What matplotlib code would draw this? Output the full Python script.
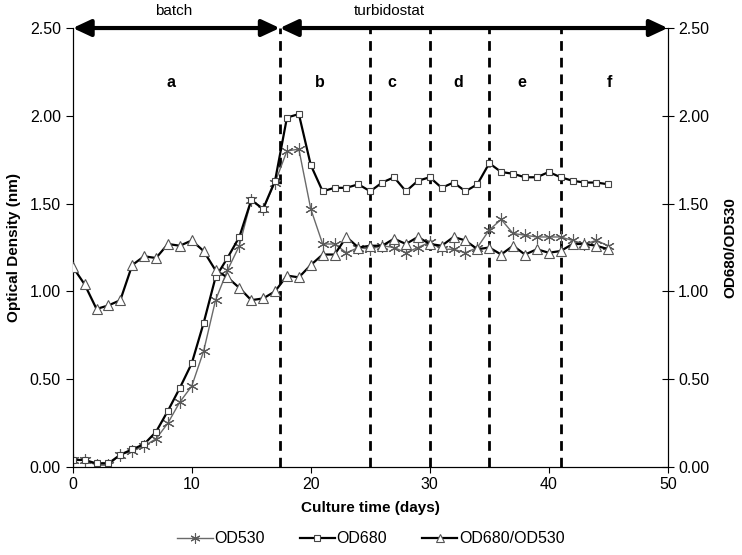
import numpy as np
import matplotlib
matplotlib.use('Agg')
import matplotlib.pyplot as plt

plt.rcParams['font.family'] = ['Liberation Sans', 'DejaVu Sans']

# Culture time (days)
days = list(range(0, 46))

od680 = [0.04, 0.04, 0.02, 0.02, 0.07, 0.10, 0.13, 0.20, 0.32, 0.45,
         0.59, 0.82, 1.08, 1.19, 1.31, 1.52, 1.47, 1.63, 1.99, 2.01,
         1.72, 1.57, 1.59, 1.59, 1.61, 1.57, 1.62, 1.65, 1.57, 1.63,
         1.65, 1.59, 1.62, 1.57, 1.61, 1.73, 1.68, 1.67, 1.65, 1.65,
         1.68, 1.65, 1.63, 1.62, 1.62, 1.61]

od530 = [0.04, 0.04, 0.01, 0.01, 0.07, 0.09, 0.12, 0.16, 0.25, 0.37,
         0.46, 0.66, 0.95, 1.12, 1.26, 1.52, 1.47, 1.62, 1.80, 1.81,
         1.47, 1.27, 1.27, 1.22, 1.25, 1.24, 1.26, 1.25, 1.22, 1.25,
         1.28, 1.24, 1.24, 1.22, 1.25, 1.35, 1.41, 1.33, 1.32, 1.31,
         1.31, 1.31, 1.29, 1.27, 1.29, 1.26]

ratio = [1.14, 1.04, 0.90, 0.92, 0.95, 1.15, 1.20, 1.19, 1.27, 1.26,
         1.29, 1.23, 1.12, 1.08, 1.02, 0.95, 0.96, 1.00, 1.09, 1.08,
         1.15, 1.21, 1.21, 1.31, 1.25, 1.26, 1.26, 1.30, 1.27, 1.31,
         1.27, 1.26, 1.31, 1.29, 1.24, 1.25, 1.21, 1.26, 1.21, 1.24,
         1.22, 1.23, 1.27, 1.27, 1.26, 1.24]

# phase boundaries and labels
phase_bounds = [17.4, 25, 30, 35, 41]
phase_labels = ['a', 'b', 'c', 'd', 'e', 'f']
phase_label_x = [8.3, 20.8, 26.8, 32.4, 37.7, 45.1]

fig = plt.figure(figsize=(7.42, 5.55), dpi=100)
ax = fig.add_axes([0.098, 0.1586, 0.802, 0.7909])
ax2 = ax.twinx()

star = (6, 2, 0)
l1, = ax.plot(days, od530, color='#6a6a6a', lw=1.0, marker=star, ms=9,
              mec='#5a5a5a', mew=0.8, label='OD530', zorder=3)
l2, = ax.plot(days, od680, color='black', lw=1.6, marker='s', ms=5,
              mfc='white', mec='#444444', mew=0.8, label='OD680', zorder=4)
l3, = ax2.plot(days, ratio, color='black', lw=1.6, marker='^', ms=7,
               mfc='white', mec='#555555', mew=0.8, label='OD680/OD530', zorder=4)

for xb in phase_bounds:
    ax.plot([xb, xb], [0, 2.5], color='black', lw=2, ls=(0, (3.5, 2.5)), zorder=2)

for lab, xl in zip(phase_labels, phase_label_x):
    ax.text(xl, 2.19, lab, ha='center', va='center', fontsize=11.5, fontweight='bold')

arrow = dict(arrowstyle='<|-|>,head_length=0.6,head_width=0.28', color='black', lw=3,
             mutation_scale=18, shrinkA=0, shrinkB=0)
ax.annotate('', xy=(0, 2.5), xytext=(17.4, 2.5), arrowprops=arrow,
            annotation_clip=False, zorder=5)
ax.annotate('', xy=(17.4, 2.5), xytext=(50, 2.5), arrowprops=arrow,
            annotation_clip=False, zorder=5)
ax.text(8.5, 2.555, 'batch', ha='center', va='bottom', fontsize=11)
ax.text(26.6, 2.555, 'turbidostat', ha='center', va='bottom', fontsize=11)

for a in (ax, ax2):
    a.set_xlim(0, 50)
    a.set_ylim(0, 2.5)
    a.set_yticks(np.arange(0, 2.51, 0.5))
    a.set_yticklabels(['%.2f' % v for v in np.arange(0, 2.51, 0.5)], fontsize=11.5)
    a.spines['top'].set_visible(False)

ax.set_xticks([0, 10, 20, 30, 40, 50])
ax.tick_params(axis='x', labelsize=11.5, direction='out', length=4)
ax.tick_params(axis='y', direction='out', length=5)
ax2.tick_params(axis='y', direction='inout', length=8)

ax.set_xlabel('Culture time (days)', fontsize=11, fontweight='bold', labelpad=6)
ax.set_ylabel('Optical Density (nm)', fontsize=11, fontweight='bold', labelpad=6)
ax2.set_ylabel('OD680/OD530', fontsize=11, fontweight='bold', labelpad=10)

fig.legend(handles=[l1, l2, l3], loc='lower center', bbox_to_anchor=(0.5, -0.01),
           ncol=3, frameon=False, fontsize=11.5, handlelength=2.2, markerscale=0.8,
           handletextpad=0.1, columnspacing=2.2)

fig.savefig('out.png', dpi=100)
